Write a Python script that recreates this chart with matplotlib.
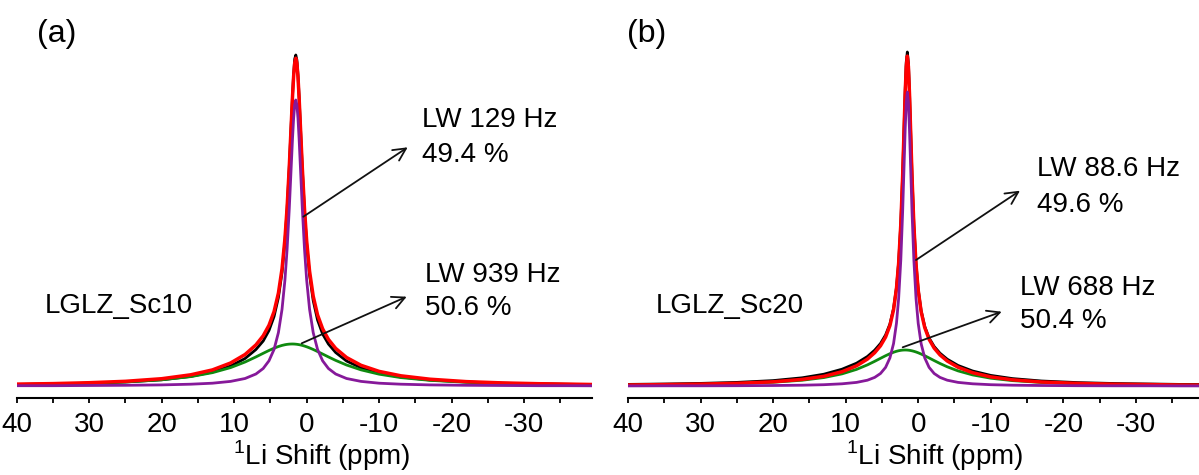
"""
Two-panel 1Li MAS NMR spectra with two-Lorentzian deconvolution
(LGLZ_Sc10 / LGLZ_Sc20).
"""

import matplotlib

matplotlib.use("Agg")
import matplotlib.pyplot as plt
from matplotlib.patches import FancyArrowPatch
from matplotlib.ticker import MultipleLocator

plt.rcParams["font.family"] = ["Liberation Sans", "DejaVu Sans"]
plt.rcParams["axes.unicode_minus"] = False
plt.rcParams["mathtext.fontset"] = "custom"
plt.rcParams["mathtext.rm"] = "Liberation Sans"

# chemical shift grid (ppm), shared by every trace
ppm = [40, 35, 30, 25, 20, 16, 13, 10.5, 8.5, 7, 6, 5.2, 4.5, 3.9, 3.4, 3.0,
       2.7, 2.4, 2.15, 1.95, 1.8, 1.65, 1.5, 1.35, 1.2, 1.05, 0.85, 0.6, 0.3,
       0.0, -0.4, -0.9, -1.5, -2.2, -3, -4, -5.5, -7.5, -10, -13, -17, -22,
       -27, -32, -36, -39.5]

# intensities (arbitrary units, baseline = 0)
sc10_exp = [1.5, 2.0, 2.8, 4.0, 6.2, 9.6, 14.0, 20.0, 27.5, 36.5, 45.0, 55.5,
            69.5, 88.5, 113.5, 144.5, 177, 219, 259, 291, 312, 327, 331, 326,
            311, 290, 258, 217, 175, 142, 111, 85.5, 66, 52, 42, 33.5, 25,
            18.2, 12.8, 9.0, 6.0, 4.0, 2.8, 2.1, 1.7, 1.4]
sc10_fit = [1.9, 2.4, 3.3, 4.7, 7.3, 11.2, 16.1, 23.0, 31.5, 41.1, 50.2, 60.7,
            74.4, 92.9, 117.3, 147.2, 178.5, 219.3, 258.7, 290.0, 309.8,
            323.1, 327.8, 322.9, 309.3, 289.3, 257.7, 218.0, 176.9, 145.1,
            114.8, 89.9, 71.1, 57.2, 46.6, 37.6, 28.5, 20.7, 14.6, 10.2, 6.8,
            4.4, 3.1, 2.3, 1.9, 1.5]
sc10_narrow = [0.3, 0.3, 0.5, 0.7, 1.1, 1.8, 2.8, 4.6, 7.5, 12.0, 17.5, 25.2,
               36.6, 53.4, 76.7, 105.9, 136.9, 177.4, 216.7, 248.0, 267.8,
               281.2, 286.0, 281.2, 267.8, 248.0, 216.7, 177.4, 136.9, 105.9,
               76.7, 53.4, 36.6, 25.2, 17.5, 12.0, 7.5, 4.6, 2.8, 1.8, 1.1,
               0.7, 0.5, 0.3, 0.3, 0.2]
sc10_broad = [1.57, 2.06, 2.81, 4.04, 6.21, 9.37, 13.33, 18.39, 23.99, 29.08,
              32.70, 35.53, 37.80, 39.47, 40.59, 41.27, 41.64, 41.88, 41.98,
              42.0, 41.97, 41.91, 41.81, 41.69, 41.53, 41.34, 41.04, 40.59,
              39.95, 39.21, 38.10, 36.54, 34.49, 31.97, 29.08, 25.61, 21.0,
              16.13, 11.80, 8.40, 5.66, 3.74, 2.63, 1.95, 1.57, 1.33]

sc20_exp = [1.6, 2.0, 2.6, 3.6, 5.4, 8.2, 11.8, 16.8, 22.8, 29.5, 35.8, 42.5,
            51.0, 62.0, 77.5, 98.5, 123.5, 162.5, 210.5, 258.5, 295, 324, 334,
            323, 294, 257, 209.5, 161.5, 122, 96.5, 75.5, 59.5, 48, 39.5, 32.8,
            26.8, 20.5, 15.0, 10.6, 7.4, 5.0, 3.4, 2.5, 2.0, 1.6, 1.5]
sc20_fit = [1.0, 1.4, 1.9, 2.7, 4.2, 6.6, 9.7, 14.3, 20.2, 26.9, 33.3, 40.2,
            48.9, 60.4, 76.2, 97.3, 122.6, 161.8, 209.4, 256.6, 292.1, 319.5,
            329.9, 319.3, 291.8, 256.1, 208.7, 160.8, 121.3, 95.8, 74.4, 58.4,
            46.7, 37.9, 31.1, 25.0, 18.7, 13.3, 9.1, 6.2, 4.0, 2.6, 1.8, 1.4,
            1.0, 0.9]
sc20_narrow = [0.1, 0.2, 0.2, 0.3, 0.5, 0.8, 1.3, 2.2, 3.6, 5.8, 8.6, 12.5,
               18.6, 28.1, 42.4, 62.6, 87.3, 126.1, 173.5, 220.6, 256.1, 283.5,
               294.0, 283.5, 256.1, 220.6, 173.5, 126.1, 87.3, 62.6, 42.4, 28.1,
               18.6, 12.5, 8.6, 5.8, 3.6, 2.2, 1.3, 0.8, 0.5, 0.3, 0.2, 0.2,
               0.1, 0.1]
sc20_broad = [0.92, 1.21, 1.66, 2.40, 3.74, 5.76, 8.44, 12.13, 16.61, 21.13,
              24.68, 27.68, 30.26, 32.30, 33.75, 34.70, 35.26, 35.67, 35.89,
              35.98, 36.0, 35.98, 35.92, 35.81, 35.67, 35.48, 35.17, 34.70,
              34.01, 33.20, 31.97, 30.26, 28.05, 25.42, 22.51, 19.20, 15.09,
              11.08, 7.79, 5.37, 3.53, 2.29, 1.59, 1.17, 0.94, 0.79]

panel_tags = ["(a)", "(b)"]
sample_names = ["LGLZ_Sc10", "LGLZ_Sc20"]
narrow_labels = [["LW 129 Hz", "49.4 %"], ["LW 88.6 Hz", "49.6 %"]]
broad_labels = [["LW 939 Hz", "50.6 %"], ["LW 688 Hz", "50.4 %"]]
tick_values = [40, 30, 20, 10, 0, -10, -20, -30]
x_title = r"$^{\mathrm{1}}$Li Shift (ppm)"

W, H = 1199, 475
FS = 20


def fx(x):
    return x / W


def fy(y):
    return 1 - y / H


fig = plt.figure(figsize=(W / 100, H / 100), dpi=100)

# axes boxes in image pixels: left, right, x-limit at right edge
boxes = [(16.7, 592.3, -39.4), (628.0, 1199.0, -38.7)]
spine_y, top_y = 397.7, 20.0
traces = [
    (sc10_exp, sc10_fit, sc10_narrow, sc10_broad),
    (sc20_exp, sc20_fit, sc20_narrow, sc20_broad),
]

for (left, right, xmin), (exp, fit, narrow, broad) in zip(boxes, traces):
    ax = fig.add_axes([fx(left), fy(spine_y), (right - left) / W,
                       (spine_y - top_y) / H])
    ax.plot(ppm, exp, color="black", lw=2.0, zorder=2)
    ax.plot(ppm, broad, color="#0f8a0f", lw=2.0, zorder=3)
    ax.plot(ppm, fit, color="#ff0000", lw=2.5, zorder=4)
    ax.plot(ppm, narrow, color="#86199a", lw=2.0, zorder=5)
    ax.set_xlim(40, xmin)
    ax.set_ylim(-11.7, spine_y - top_y - 11.7)
    for side in ("left", "right", "top"):
        ax.spines[side].set_visible(False)
    ax.spines["bottom"].set_linewidth(1.5)
    ax.yaxis.set_visible(False)
    ax.set_xticks(tick_values)
    ax.set_xticklabels([str(v) for v in tick_values])
    ax.xaxis.set_minor_locator(MultipleLocator(5))
    ax.tick_params(axis="x", which="both", direction="out", length=3.4,
                   width=1.3, labelsize=FS, pad=7)

# text in image pixel positions (left, baseline)
for tag, x in zip(panel_tags, (37.3, 627.3)):
    fig.text(fx(x), fy(41.7), tag, fontsize=23, va="baseline")
for name, x in zip(sample_names, (45, 656)):
    fig.text(fx(x), fy(313), name, fontsize=FS, va="baseline")
for cx in (322, 935):
    fig.text(fx(cx), fy(465), x_title, fontsize=FS, ha="center",
             va="baseline")

label_pos = [
    [(421.7, 127), (421.7, 162), (425, 282), (425, 315)],
    [(1036.7, 176), (1036.7, 212), (1020, 295), (1020, 328.3)],
]
for i in range(2):
    lines = narrow_labels[i] + broad_labels[i]
    for txt, (x, y) in zip(lines, label_pos[i]):
        fig.text(fx(x), fy(y), txt, fontsize=FS, va="baseline")

arrows = [
    ((303.3, 216.7), (407.7, 147.3)),
    ((301.7, 343.3), (406.7, 296.7)),
    ((916.0, 260.0), (1020.0, 190.7)),
    ((902.7, 347.3), (1001.7, 311.7)),
]
for (sx, sy), (tx, ty) in arrows:
    fig.add_artist(FancyArrowPatch(
        (fx(sx), fy(sy)), (fx(tx), fy(ty)), transform=fig.transFigure,
        arrowstyle="->,head_length=0.5,head_width=0.25", mutation_scale=18,
        lw=1.3, color="#111111", shrinkA=0, shrinkB=0))

fig.savefig("out.png", dpi=100)
